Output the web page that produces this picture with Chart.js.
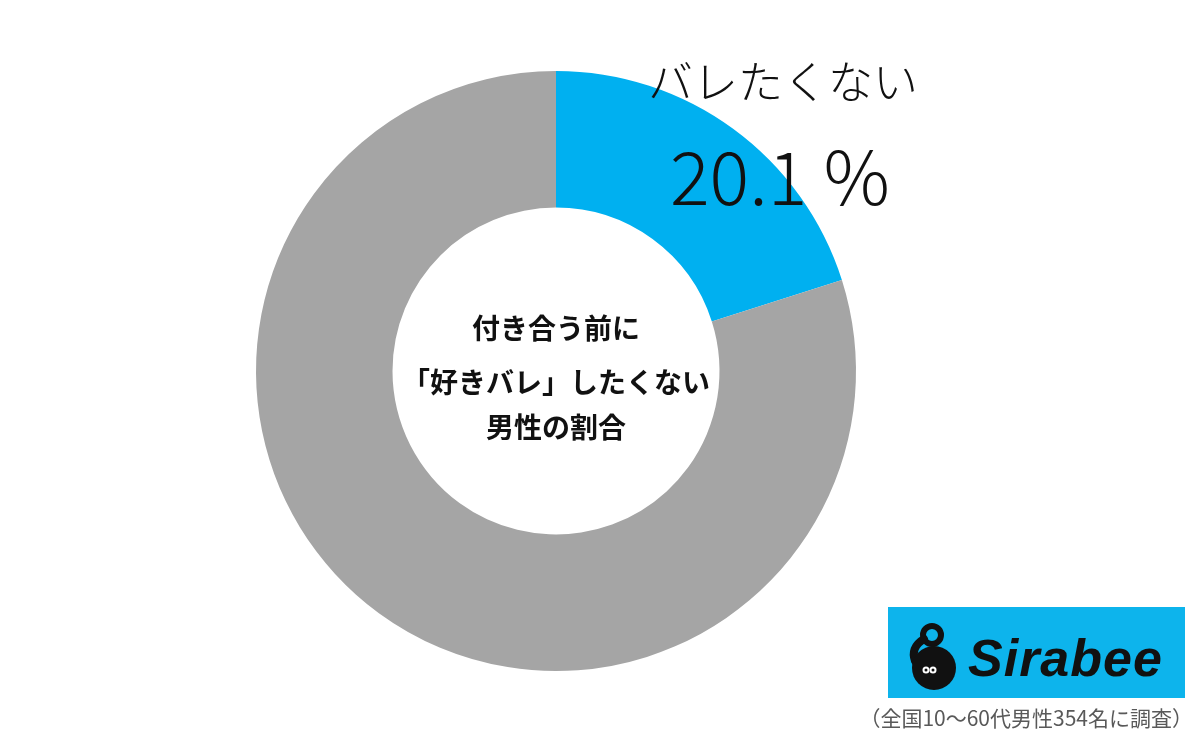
<!DOCTYPE html>
<html>
<head>
    <meta charset="UTF-8">
    <title>好きバレしたくない男性の割合</title>
    <script src="https://cdn.jsdelivr.net/npm/chart.js"></script>
    <style>
        body {
            margin: 0;
            background-color: #fff;
        }
        #wrap {
            position: relative;
            width: 1200px;
            height: 738px;
            overflow: hidden;
        }
        #logo {
            position: absolute;
            left: 888px;
            top: 607px;
        }
        #note {
            position: absolute;
            right: 7px;
            top: 703px;
            font-family: "Noto Sans CJK JP", sans-serif;
            font-size: 21px;
            line-height: 28px;
            color: #595959;
            white-space: nowrap;
        }
    </style>
</head>
<body>
<div id="wrap">
    <canvas id="myChart" width="1200" height="738"></canvas>
    <svg id="logo" width="297" height="91" xmlns="http://www.w3.org/2000/svg">
        <rect x="0" y="0" width="297" height="91" fill="#0DB4EC"/>
        <circle cx="44" cy="28" r="9" fill="none" stroke="#111" stroke-width="6"/>
        <path d="M36 32 C 26 38, 24 46, 27 54" fill="none" stroke="#111" stroke-width="8" stroke-linecap="round"/>
        <circle cx="46" cy="61" r="22" fill="#111"/>
        <circle cx="38" cy="63" r="3.5" fill="#fff"/>
        <circle cx="45" cy="63" r="3.5" fill="#fff"/>
        <circle cx="38" cy="63" r="1.5" fill="#111"/>
        <circle cx="45" cy="63" r="1.5" fill="#111"/>
        <text x="80" y="69" font-family="Liberation Sans, Arial, sans-serif" font-weight="bold" font-style="italic" font-size="52" letter-spacing="1" fill="#111">Sirabee</text>
    </svg>
    <div id="note">（全国10～60代男性354名に調査）</div>
</div>

<script>
    const labels = ['バレたくない', 'その他'];
    const values = [20.1, 79.9];
    const colors = ['#00B0F0', '#A5A5A5'];
    const centerLines = ['付き合う前に', '「好きバレ」したくない', '男性の割合'];

    const labelPlugin = {
        id: 'labelPlugin',
        afterDraw(chart) {
            const ctx = chart.ctx;
            const arc = chart.getDatasetMeta(0).data[0];
            const cx = arc.x;
            const cy = arc.y;
            ctx.save();
            ctx.fillStyle = '#111';
            ctx.textAlign = 'center';
            ctx.textBaseline = 'middle';

            // centre title
            ctx.font = 'bold 28px "Noto Sans CJK JP", sans-serif';
            const offs = [-43, 11, 56];
            centerLines.forEach((t, i) => ctx.fillText(t, cx, cy + offs[i]));

            // slice label
            ctx.font = '300 45px "Noto Sans CJK JP", sans-serif';
            ctx.fillText(labels[0], 783, 82);
            ctx.textBaseline = 'alphabetic';
            ctx.font = '300 74px "Noto Sans CJK JP", sans-serif';
            ctx.fillText(values[0].toFixed(1) + ' %', 780, 205);
            ctx.restore();
        }
    };

    const ctx = document.getElementById('myChart').getContext('2d');
    const chart = new Chart(ctx, {
        type: 'doughnut',
        data: {
            labels: labels,
            datasets: [{
                data: values,
                backgroundColor: colors,
                borderWidth: 0
            }]
        },
        options: {
            responsive: false,
            animation: false,
            cutout: '54.5%',
            layout: {
                padding: { left: 256, right: 344, top: 71, bottom: 67 }
            },
            plugins: {
                legend: { display: false },
                tooltip: { enabled: false }
            }
        },
        plugins: [labelPlugin]
    });
</script>
</body>
</html>
